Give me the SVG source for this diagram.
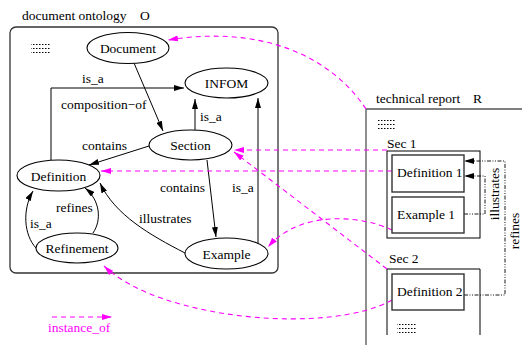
<svg xmlns="http://www.w3.org/2000/svg" width="522" height="345" viewBox="0 0 522 345">
  <defs>
    <marker id="arr" viewBox="0 0 10 6" refX="10" refY="3" markerWidth="10" markerHeight="6" markerUnits="userSpaceOnUse" orient="auto">
      <path d="M0,0 L10,3 L0,6 Z" fill="#000"/>
    </marker>
    <marker id="arrM" viewBox="0 0 10 6" refX="10" refY="3" markerWidth="10" markerHeight="6" markerUnits="userSpaceOnUse" orient="auto">
      <path d="M0,0 L10,3 L0,6 Z" fill="#ff00ff"/>
    </marker>
    <pattern id="dots" width="3" height="4" patternUnits="userSpaceOnUse">
      <rect x="0" y="0" width="1.5" height="1" fill="#000"/>
    </pattern>
  </defs>
  <style>
    text { font-family: "Liberation Serif", "Times New Roman", serif; font-size: 13.5px; fill: #000; }
    .node ellipse { fill: #fff; stroke: #000; stroke-width: 1.1; }
    .edge { fill: none; stroke: #000; stroke-width: 1; marker-end: url(#arr); }
    .inst { fill: none; stroke: #ff00ff; stroke-width: 1.1; stroke-dasharray: 5 4; marker-end: url(#arrM); }
    .dd { fill: none; stroke: #000; stroke-width: 0.9; stroke-dasharray: 4 1.5 1 1.5 1 1.5; }
    .part rect { fill: #fff; stroke: #333; stroke-width: 1.4; }
    .sec { fill: none; stroke: #000; stroke-width: 1; }
    .mag { fill: #ff00ff; }
  </style>

  <!-- ontology container -->
  <g id="ontology">
    <text x="22" y="20">document ontology</text>
    <text x="140" y="20">O</text>
    <rect x="10" y="27" width="268" height="246" rx="6" fill="none" stroke="#333" stroke-width="1.3"/>
    <rect x="31" y="42" width="19" height="11" fill="url(#dots)"/>
  </g>

  <!-- technical report container -->
  <g id="report">
    <text x="376" y="103">technical report</text>
    <text x="473" y="103">R</text>
    <path d="M522,109 H366 V345" fill="none" stroke="#555" stroke-width="1.3"/>
    <rect x="377" y="118" width="19" height="12" fill="url(#dots)"/>
  </g>

  <g id="sec1">
    <text x="387" y="148">Sec 1</text>
    <rect class="sec" x="387" y="151" width="93" height="87"/>
  </g>
  <g id="sec2">
    <text x="389" y="263">Sec 2</text>
    <path class="sec" d="M387,335 V269 H480 V335"/>
    <rect x="397" y="324" width="19" height="11" fill="url(#dots)"/>
  </g>

  <!-- connectors -->
  <g id="connectors">
    <!-- ontology relations -->
    <path class="edge" d="M134,63 L163,131"/>
    <path class="edge" d="M51,160 V88 H184"/>
    <path class="edge" d="M195,130 V99"/>
    <path class="edge" d="M149,146 L89,165"/>
    <path class="edge" d="M207,160 L216,237"/>
    <path class="edge" d="M258,244 V98"/>
    <path class="edge" d="M185,253 C150,235 115,215 100,183"/>
    <path class="edge" d="M36,248 C24,235 22,210 33,191"/>
    <path class="edge" d="M93,233 C102,220 100,200 85,188"/>

    <!-- report relations -->
    <path class="dd" d="M464,214 H485 V176 H466"/>
    <path d="M464,176 L474,173 L474,179 Z" fill="#000"/>
    <path class="dd" d="M464,295 H505 V161 H466"/>
    <path d="M464,161 L474,158 L474,164 Z" fill="#000"/>

    <!-- instance_of links -->
    <path class="inst" d="M366,109 C330,55 260,25 168,40"/>
    <path class="inst" d="M387,150 H234"/>
    <path class="inst" d="M392,171 H101"/>
    <path class="inst" d="M387,269 L234,152"/>
    <path class="inst" d="M392,230 C360,215 300,210 268,247"/>
    <path class="inst" d="M392,300 C330,335 160,320 104,266"/>

    <!-- legend -->
    <path class="inst" d="M52,317 H112"/>
  </g>

  <!-- edge labels -->
  <g id="labels">
    <text x="61" y="109">composition−of</text>
    <text x="82" y="83">is_a</text>
    <text x="200" y="121">is_a</text>
    <text x="82" y="150">contains</text>
    <text x="160" y="192">contains</text>
    <text x="232" y="192">is_a</text>
    <text x="139" y="223">illustrates</text>
    <text x="30" y="228">is_a</text>
    <text x="56" y="212">refines</text>
    <text transform="translate(499,194) rotate(-90)" text-anchor="middle">illustrates</text>
    <text transform="translate(518.5,231) rotate(-90)" text-anchor="middle">refines</text>
    <text class="mag" x="48" y="332">instance_of</text>
  </g>

  <!-- ontology nodes -->
  <g id="Document" class="node">
    <ellipse cx="128" cy="48" rx="41" ry="15.5"/>
    <text x="128" y="53" text-anchor="middle">Document</text>
  </g>
  <g id="INFOM" class="node">
    <ellipse cx="226.5" cy="83" rx="41.5" ry="15"/>
    <text x="226.5" y="88" text-anchor="middle">INFOM</text>
  </g>
  <g id="Section" class="node">
    <ellipse cx="190.5" cy="145" rx="41.5" ry="15"/>
    <text x="190.5" y="150" text-anchor="middle">Section</text>
  </g>
  <g id="Definition" class="node">
    <ellipse cx="58.5" cy="175.5" rx="41.5" ry="15.5"/>
    <text x="58.5" y="180.5" text-anchor="middle">Definition</text>
  </g>
  <g id="Refinement" class="node">
    <ellipse cx="77" cy="248" rx="41" ry="15"/>
    <text x="77" y="253" text-anchor="middle">Refinement</text>
  </g>
  <g id="Example" class="node">
    <ellipse cx="226.5" cy="253.5" rx="41.5" ry="15.5"/>
    <text x="226.5" y="258.5" text-anchor="middle">Example</text>
  </g>

  <!-- report parts -->
  <g id="Definition1" class="part">
    <rect x="392" y="155" width="72" height="37"/>
    <text x="397" y="177">Definition 1</text>
  </g>
  <g id="Example1" class="part">
    <rect x="392" y="197" width="72" height="36"/>
    <text x="397" y="219">Example 1</text>
  </g>
  <g id="Definition2" class="part">
    <rect x="392" y="274" width="72" height="36"/>
    <text x="397" y="296">Definition 2</text>
  </g>
</svg>
